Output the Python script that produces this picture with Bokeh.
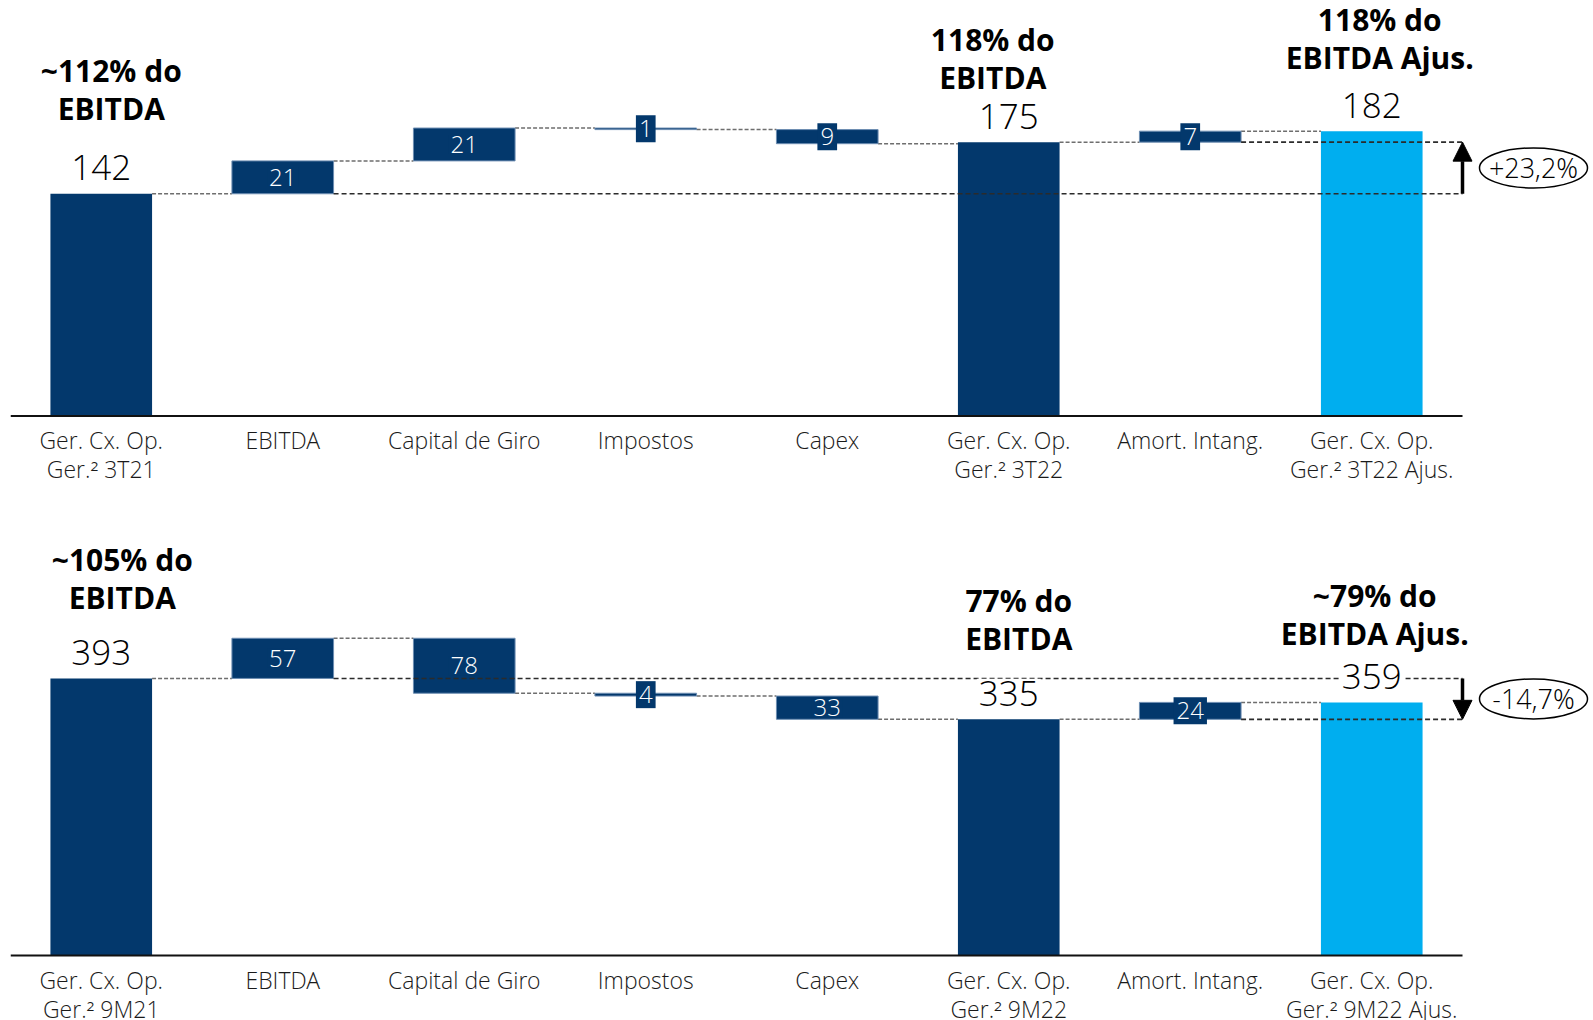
from bokeh.plotting import figure
from bokeh.models import Range1d, Arrow, NormalHead
from bokeh.layouts import column
from bokeh.embed import file_html
from bokeh.resources import INLINE
from bokeh.core.properties import value

# ---- data -------------------------------------------------------------
kinds = ["total", "step", "step", "step", "step", "total", "step", "adjusted"]

categories_3t = ["Ger. Cx. Op.\nGer.\u00b2 3T21", "EBITDA", "Capital de Giro", "Impostos",
                 "Capex", "Ger. Cx. Op.\nGer.\u00b2 3T22", "Amort. Intang.",
                 "Ger. Cx. Op.\nGer.\u00b2 3T22 Ajus."]
values_3t = [142, 21, 21, -1, -9, 175, 7, 182]
notes_3t = ["~112% do\nEBITDA", "118% do\nEBITDA", "118% do\nEBITDA Ajus."]
change_3t = "+23,2%"

categories_9m = ["Ger. Cx. Op.\nGer.\u00b2 9M21", "EBITDA", "Capital de Giro", "Impostos",
                 "Capex", "Ger. Cx. Op.\nGer.\u00b2 9M22", "Amort. Intang.",
                 "Ger. Cx. Op.\nGer.\u00b2 9M22 Ajus."]
values_9m = [393, 57, -78, -4, -33, 335, 24, 359]
notes_9m = ["~105% do\nEBITDA", "77% do\nEBITDA", "~79% do\nEBITDA Ajus."]
change_9m = "-14,7%"

# ---- style ------------------------------------------------------------
NAVY = "#03386C"
SKY = "#00AEEF"
FONT = value("Open Sans")
LIGHT = value("Open Sans Light")
PAGE_W = 1593
LEFT = 10
RIGHT = 3
CAT_PX = 181.5          # pixels per category slot
BAR_W = 0.56
THIN_PX = 20            # steps thinner than this get a tab behind their value


def panel(cats, vals, notes, change, height, base_px, px_per_unit, note_offsets):
    frame_w = PAGE_W - LEFT - RIGHT
    p = figure(width=PAGE_W, height=height, output_backend="svg", toolbar_location=None,
               x_range=Range1d(-0.5, -0.5 + frame_w / CAT_PX),
               y_range=Range1d(-(height - base_px) / px_per_unit, base_px / px_per_unit),
               min_border_left=LEFT, min_border_right=RIGHT,
               min_border_top=0, min_border_bottom=0)
    p.axis.visible = False
    p.grid.visible = False
    p.outline_line_color = None
    p.background_fill_color = "white"
    p.border_fill_color = "white"

    # waterfall geometry
    bottoms, tops, ends = [], [], []
    running = 0
    for k, v in zip(kinds, vals):
        if k == "step":
            lo, hi = sorted((running, running + v))
            running += v
        else:
            lo, hi = 0, v
            running = v
        bottoms.append(lo)
        tops.append(hi)
        ends.append(running)
    xs = list(range(len(vals)))

    tot_i = [i for i, k in enumerate(kinds) if k != "step"]
    step_i = [i for i, k in enumerate(kinds) if k == "step"]
    first, second = vals[tot_i[0]], vals[tot_i[1]]

    # connectors between neighbouring columns
    half = BAR_W / 2
    p.segment(x0=[i + half for i in xs[:-1]], y0=ends[:-1],
              x1=[i + 1 - half for i in xs[:-1]], y1=ends[:-1],
              line_color="#6e6e6e", line_width=1.5, line_dash="4 2")

    # bars
    p.vbar(x=[xs[i] for i in tot_i], bottom=[0] * len(tot_i), top=[tops[i] for i in tot_i],
           width=BAR_W, fill_color=[SKY if kinds[i] == "adjusted" else NAVY for i in tot_i],
           line_color=None)
    p.vbar(x=[xs[i] for i in step_i], bottom=[bottoms[i] for i in step_i],
           top=[tops[i] for i in step_i], width=BAR_W, fill_color=NAVY,
           line_color="#6d8db2", line_width=1)

    # reference levels of the two reported totals
    last_x = xs[-1] + 0.5
    p.segment(x0=[tot_i[0] + 1 + half, tot_i[1] + 1 + half], y0=[first, second],
              x1=[last_x, last_x], y1=[first, second],
              line_color="#2b2b2b", line_width=1.6, line_dash="5 3")

    # baseline
    p.segment(x0=[-0.5], y0=[0], x1=[last_x], y1=[0], line_color="#111111", line_width=2)

    # variation arrow and ellipse
    p.add_layout(Arrow(x_start=last_x, y_start=first, x_end=last_x, y_end=second,
                       line_color="black", line_width=3.5,
                       end=NormalHead(size=19, fill_color="black", line_color="black")))
    ex = last_x + 71 / CAT_PX
    ey = (first + second) / 2
    p.ellipse(x=[ex], y=[ey], width=108, height=40, width_units="screen",
              height_units="screen", fill_color="white", line_color="black", line_width=1.5)
    p.text(x=[ex], y=[ey], text=[change], text_font=LIGHT, text_font_size="27px",
           text_align="center", text_baseline="middle", text_color="black")

    # step values: tabs on thin steps, plain inside the taller ones
    thin = [i for i in step_i if (tops[i] - bottoms[i]) * px_per_unit < THIN_PX]
    wide = [i for i in step_i if i not in thin]
    for idx, pad in ((thin, dict(left=3, right=3, top=5, bottom=5)),
                     (wide, dict(left=2, right=2, top=1, bottom=1))):
        p.text(x=[xs[i] for i in idx], y=[(bottoms[i] + tops[i]) / 2 for i in idx],
               text=[str(abs(vals[i])) for i in idx], text_font=LIGHT,
               text_font_size="24px", text_color="white", text_align="center",
               text_baseline="middle", background_fill_color=NAVY, padding=pad)

    # totals above their bars
    p.text(x=[xs[i] for i in tot_i], y=[tops[i] for i in tot_i],
           text=[str(vals[i]) for i in tot_i], y_offset=-26, text_font=LIGHT,
           text_font_size="35px", text_color="black", text_align="center",
           text_baseline="middle", background_fill_color="white", padding=2)

    # bold notes over the totals
    p.text(x=[xs[i] for i in tot_i], y=[tops[i] for i in tot_i], text=notes,
           x_offset=[o[0] for o in note_offsets], y_offset=[-o[1] for o in note_offsets],
           text_font=FONT, text_font_style="bold", text_font_size="30px",
           text_color="black", text_align="center", text_baseline="middle",
           text_line_height=0.93)

    # category labels under the baseline
    p.text(x=xs, y=[0] * len(xs), text=cats, y_offset=8, text_font=LIGHT,
           text_font_size="23px", text_color="#1a1a1a", text_align="center",
           text_baseline="top", text_line_height=0.92)
    return p


top = panel(categories_3t, values_3t, notes_3t, change_3t, 500, 415.5, 1.565,
            [(10, 104), (-16, 84), (8, 93)])
bottom = panel(categories_9m, values_9m, notes_9m, change_9m, 520, 455, 0.705,
               [(21, 100), (10, 100), (3, 88)])

layout = column(top, bottom, spacing=0)
open("out.html", "w").write(file_html(layout, INLINE))
